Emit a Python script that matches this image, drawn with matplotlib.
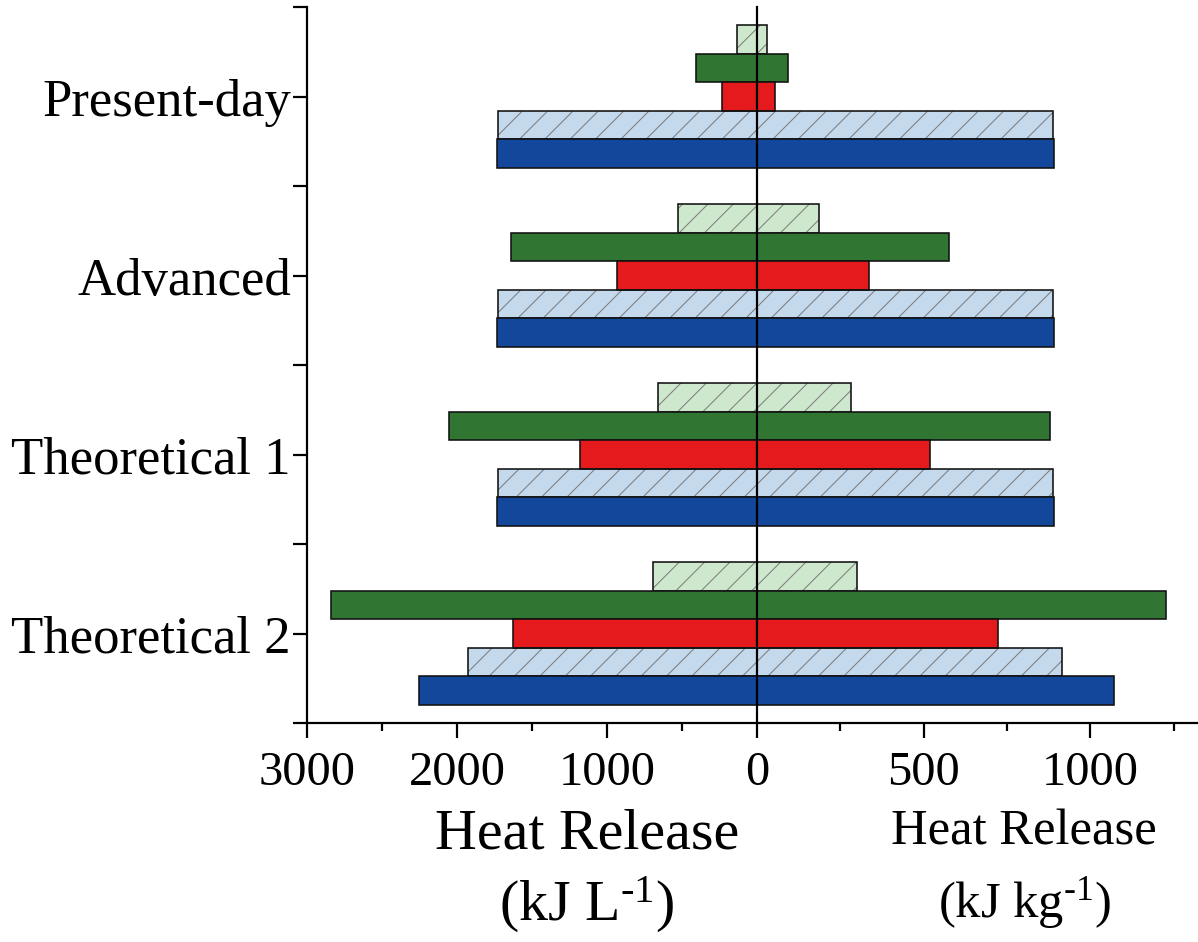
import matplotlib
matplotlib.use('Agg')
import matplotlib.pyplot as plt
import numpy as np

# ---------------- data ----------------
categories = ['Present-day', 'Advanced', 'Theoretical 1', 'Theoretical 2']
# volumetric heat release (kJ L^-1), left side
vol_light_green = [133, 527, 660, 693]
vol_dark_green = [407, 1640, 2053, 2840]
vol_red = [233, 933, 1180, 1627]
vol_light_blue = [1727, 1727, 1727, 1927]
vol_blue = [1733, 1733, 1733, 2253]
# gravimetric heat release (kJ kg^-1), right side
grav_light_green = [30, 186, 282, 300]
grav_dark_green = [93, 576, 879, 1228]
grav_red = [54, 336, 519, 723]
grav_light_blue = [888, 888, 888, 915]
grav_blue = [891, 891, 891, 1071]

left_ticks = [3000, 2000, 1000, 0]
left_ticklabels = ['3000', '2000', '1000', '0']
right_ticks = [500, 1000]
right_ticklabels = ['500', '1000']

# ---------------- style ----------------
DPI = 76
W, H = 1198, 943
P = 72.0 / DPI  # px -> pt

plt.rcParams['font.family'] = ['Liberation Serif', 'DejaVu Serif']
plt.rcParams['mathtext.fontset'] = 'custom'
plt.rcParams['mathtext.rm'] = 'Liberation Serif'
plt.rcParams['mathtext.it'] = 'Liberation Serif:italic'
plt.rcParams['hatch.linewidth'] = 1.0 * P

fig = plt.figure(figsize=(W / DPI, H / DPI), dpi=DPI)

x0, xc, x1 = 307, 757, 1198
ytop, ybot = 8, 724
axL = fig.add_axes([x0 / W, 1 - ybot / H, (xc - x0) / W, (ybot - ytop) / H])
axR = fig.add_axes([xc / W, 1 - ybot / H, (x1 - xc) / W, (ybot - ytop) / H], sharey=axL)

colors = {
    'light_green': '#CDE8CC',
    'dark_green': '#307531',
    'red': '#E41A1C',
    'light_blue': '#C5D9EC',
    'blue': '#12479C',
}
hatched = {'light_green': True, 'dark_green': False, 'red': False,
           'light_blue': True, 'blue': False}
order = ['light_green', 'dark_green', 'red', 'light_blue', 'blue']
left_vals = {'light_green': vol_light_green, 'dark_green': vol_dark_green,
             'red': vol_red, 'light_blue': vol_light_blue, 'blue': vol_blue}
right_vals = {'light_green': grav_light_green, 'dark_green': grav_dark_green,
              'red': grav_red, 'light_blue': grav_light_blue, 'blue': grav_blue}

ypos = np.arange(len(categories))
bh = 0.16
offsets = [-2 * bh, -bh, 0, bh, 2 * bh]
edge_lw = 1.6 * P

for ax, vals in ((axL, left_vals), (axR, right_vals)):
    for key, off in zip(order, offsets):
        y = ypos + off
        if hatched[key]:
            ax.barh(y, vals[key], height=bh, color=colors[key], hatch='/',
                    edgecolor='#7a7a7a', linewidth=0, zorder=1)
            ax.barh(y, vals[key], height=bh, fill=False, edgecolor='#111111',
                    linewidth=edge_lw, zorder=1.5)
        else:
            ax.barh(y, vals[key], height=bh, color=colors[key],
                    edgecolor='#111111', linewidth=edge_lw, zorder=1.5)

axL.set_xlim(3000, 0)
axR.set_xlim(0, 1323)
axL.set_ylim(3.5, -0.5)

spine_lw = 2.2 * P
for ax in (axL, axR):
    for s in ax.spines.values():
        s.set_linewidth(spine_lw)
        s.set_color('black')
    ax.spines['top'].set_visible(False)
    ax.spines['right'].set_visible(False)
axR.spines['left'].set_zorder(5)

axL.set_xticks(left_ticks)
axL.set_xticklabels(left_ticklabels)
axL.set_xticks([2500, 1500, 500], minor=True)
axR.set_xticks(right_ticks)
axR.set_xticklabels(right_ticklabels)
axR.set_xticks([250, 750, 1250], minor=True)

axL.set_yticks(ypos)
axL.set_yticklabels(categories)
axL.set_yticks(np.arange(-0.5, 4.0, 1.0), minor=True)

for ax in (axL, axR):
    ax.tick_params(axis='x', which='major', direction='out', length=15 * P,
                   width=spine_lw, labelsize=46, pad=12 * P)
    ax.tick_params(axis='x', which='minor', direction='out', length=8 * P,
                   width=spine_lw)
axL.tick_params(axis='y', which='both', direction='out', length=14 * P,
                width=spine_lw, labelsize=50, pad=2 * P)
axR.tick_params(axis='y', which='both', left=False, labelleft=False)

fig.text(587 / W, 1 - 835 / H, 'Heat Release', ha='center', va='center', fontsize=55)
fig.text(587 / W, 1 - 905 / H, r'(kJ L$^{\text{-1}}$)', ha='center', va='center', fontsize=55)
fig.text(1024 / W, 1 - 832 / H, 'Heat Release', ha='center', va='center', fontsize=48)
fig.text(1024 / W, 1 - 903 / H, r'(kJ kg$^{\text{-1}}$)', ha='center', va='center', fontsize=48)

fig.savefig('out.png', dpi=DPI)
